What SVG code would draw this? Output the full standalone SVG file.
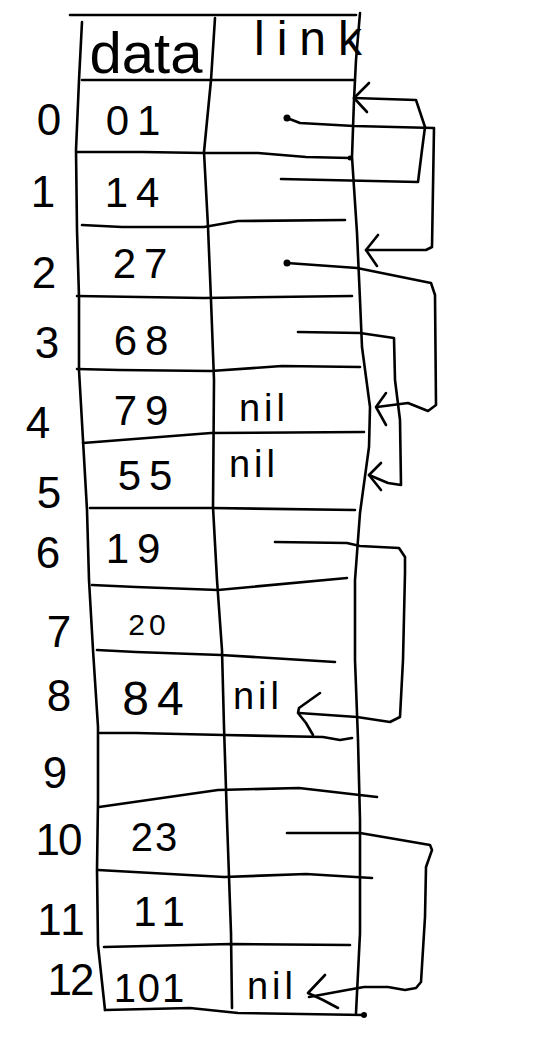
<svg xmlns="http://www.w3.org/2000/svg" width="538" height="1046" viewBox="0 0 538 1046">
<style>
.ln{fill:none;stroke:#000;stroke-width:2.6;stroke-linecap:round;stroke-linejoin:round}
.t{font-family:"Liberation Sans","DejaVu Sans",sans-serif;fill:#000;text-anchor:middle}
.idx{font-size:44px}
.dat{font-size:42px;letter-spacing:8px}
.nil{font-size:38px;letter-spacing:4px}
.dot{fill:#000}
</style>
<rect width="538" height="1046" fill="#fff"/>
<g id="table-frame">
<path class="ln" d="M70,15 L356,15"/>
<path class="ln" d="M82,22 L79,80 L76,150 L77,230 L79,297 L79,370 L83,440 L87,510 L89,580 L93,650 L98,727 L98,773 L98,800 L97,870 L98,945 L105,1010"/>
<path class="ln" d="M215,18 L211,80 L204,152 L208,227 L211,300 L214,380 L213,507 L217,580 L222,650 L224,727 L227,820 L231,933 L232,1008"/>
<path class="ln" d="M360,13 L356,60 L354,100 L352,157 L357,233 L360,300 L362,347 L370,407 L369,447 L360,513 L355,580 L355,660 L358,740 L360,820 L360,933 L356,1013"/>
<path class="ln" d="M82,80 L354,80"/>
<path class="ln" d="M77,152 L143,152 L204,153 L258,153 L306,157 L350,158"/>
<path class="ln" d="M82,225 L122,227 L204,227 L238,221 L345,220"/>
<path class="ln" d="M77,296 L204,298 L352,296"/>
<path class="ln" d="M77,369 L119,370 L211,371 L282,366 L360,367"/>
<path class="ln" d="M83,443 L211,433 L364,432"/>
<path class="ln" d="M90,508 L211,508 L355,510"/>
<path class="ln" d="M92,585 L136,587 L218,590 L347,578"/>
<path class="ln" d="M97,650 L136,652 L221,655 L335,662"/>
<path class="ln" d="M100,733 L136,733 L224,735 L323,737 L340,740 L352,738"/>
<path class="ln" d="M99,807 L218,790 L299,788 L377,797"/>
<path class="ln" d="M98,870 L224,877 L306,874 L372,878"/>
<path class="ln" d="M104,947 L231,944 L350,945"/>
<path class="ln" d="M105,1010 L190,1008 L238,1013 L364,1015"/>
<circle class="dot" cx="364" cy="1015" r="3"/>
<circle class="dot" cx="350" cy="158" r="2.5"/>
</g>
<g id="header">
<text class="t" x="146" y="73" style="font-size:58px">data</text>
<text class="t" x="314" y="55" style="font-size:48px;letter-spacing:12px">link</text>
</g>
<g id="row-0"><text class="t idx" x="49" y="135">0</text><text class="t dat" x="137" y="135">01</text></g>
<g id="row-1"><text class="t idx" x="43" y="207">1</text><text class="t dat" x="136" y="207">14</text></g>
<g id="row-2"><text class="t idx" x="44" y="288">2</text><text class="t dat" x="144" y="278">27</text></g>
<g id="row-3"><text class="t idx" x="47" y="358">3</text><text class="t dat" x="145" y="355">68</text></g>
<g id="row-4"><text class="t idx" x="38" y="438">4</text><text class="t dat" x="145" y="425">79</text><text class="t nil" x="264" y="421">nil</text></g>
<g id="row-5"><text class="t idx" x="49" y="508">5</text><text class="t dat" x="149" y="490">55</text><text class="t nil" x="254" y="477">nil</text></g>
<g id="row-6"><text class="t idx" x="48" y="568">6</text><text class="t dat" x="137" y="563">19</text></g>
<g id="row-7"><text class="t idx" x="59" y="647">7</text><text class="t dat" x="149" y="635" style="font-size:30px;letter-spacing:4px">20</text></g>
<g id="row-8"><text class="t idx" x="59" y="711">8</text><text class="t dat" x="157" y="715" style="font-size:48px">84</text><text class="t nil" x="258" y="709">nil</text></g>
<g id="row-9"><text class="t idx" x="55" y="788">9</text></g>
<g id="row-10"><text class="t idx" x="58" y="855" style="letter-spacing:-2px">10</text><text class="t dat" x="155" y="851" style="font-size:40px;letter-spacing:2px">23</text></g>
<g id="row-11"><text class="t idx" x="62" y="935" style="letter-spacing:2px">11</text><text class="t dat" x="163" y="926">11</text></g>
<g id="row-12"><text class="t idx" x="70" y="995" style="letter-spacing:-2px">12</text><text class="t dat" x="150" y="1002" style="font-size:40px;letter-spacing:2px">101</text><text class="t nil" x="272" y="999">nil</text></g>
<g id="connectors">
<circle class="dot" cx="287" cy="118" r="3.5"/>
<path class="ln" d="M287,118 L300,123 L354,126 L434,128 L432,247 L426,250 L366,250"/>
<path class="ln" d="M378,235 L366,250 L377,266"/>
<path class="ln" d="M281,179 L418,182 L422,150 L425,127 L416,100 L354,98"/>
<path class="ln" d="M369,83 L354,98 L367,112"/>
<circle class="dot" cx="287" cy="263" r="3.5"/>
<path class="ln" d="M287,263 L357,268 L431,283 L435,295 L436,405 L428,411 L408,403 L377,407"/>
<path class="ln" d="M386,393 L376,407 L386,425"/>
<path class="ln" d="M298,332 L360,333 L394,338 L395,380 L400,420 L401,485 L388,483 L369,475"/>
<path class="ln" d="M381,463 L369,475 L381,490"/>
<path class="ln" d="M275,542 L347,543 L360,546 L399,548 L405,557 L405,573 L403,660 L400,717 L390,722 L357,717 L299,713"/>
<path class="ln" d="M320,693 L299,708 L298,713 L306,723 L313,735"/>
<path class="ln" d="M287,833 L360,833 L401,840 L430,845 L432,850 L426,867 L425,917 L421,982 L416,988 L405,990 L388,987 L364,987 L347,990 L309,997"/>
<path class="ln" d="M325,975 L308,993 L323,1000 L338,1008"/>
</g>
</svg>
